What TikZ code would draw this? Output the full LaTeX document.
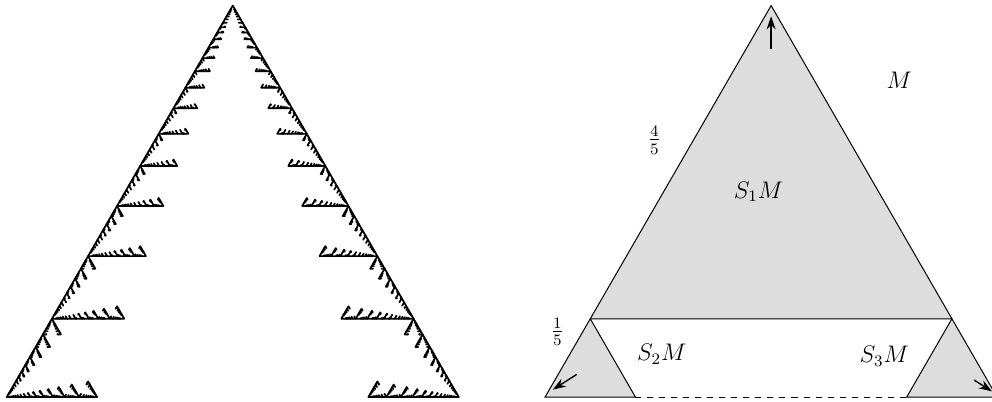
\documentclass[tikz,border=0pt]{standalone}
\usepackage{amsmath,amssymb}
\usepackage{tikz}
\usetikzlibrary{arrows.meta,calc}
\definecolor{AttrGray}{HTML}{DDDDDD}

\tikzset{
  attractor/.style={line width=0.85pt,line cap=round,line join=round},
  mapped/.style={fill=AttrGray,draw=black,line width=0.5pt},
  orient/.style={-{Stealth[length=6.5pt,width=4.5pt]},line width=0.7pt},
}

% S_1: 4/5 at the apex, S_2 / S_3: 1/5 at the base corners, turned by +-120 deg
\newcommand\ifsM[1]{%
  \ifdim#1pt<0.008pt
    \draw[attractor] (0,0)--(0.5,0.866)--(1,0);
  \else
    \pgfmathsetmacro\szA{0.8*#1}\pgfmathsetmacro\szB{0.2*#1}%
    \begin{scope}[shift={(0.1,0.1732)},scale=0.8]\ifsM{\szA}\end{scope}
    \begin{scope}[shift={(0.2,0)},scale=0.2,rotate=120]\ifsM{\szB}\end{scope}
    \begin{scope}[shift={(0.9,0.1732)},scale=0.2,rotate=-120]\ifsM{\szB}\end{scope}
  \fi}

\begin{document}
\begin{tikzpicture}[font=\fontsize{11.5}{14}\selectfont]
  \useasboundingbox (0,0) rectangle (17.43,7.047);
  % the attractor
  \begin{scope}[shift={(0.118,0.070)},scale=7.943]
    \ifsM{1}
  \end{scope}
  % M and its three images
  \coordinate (A) at (9.577,0.070);
  \coordinate (B) at (17.520,0.070);
  \coordinate (C) at (13.549,6.949);
  \coordinate (D) at ($(A)!0.2!(C)$);
  \coordinate (E) at ($(B)!0.2!(C)$);
  \coordinate (P) at ($(A)!0.2!(B)$);
  \coordinate (Q) at ($(B)!0.2!(A)$);
  \draw[mapped] (C)--(D)--(E)--cycle;
  \draw[mapped] (A)--(P)--(D)--cycle;
  \draw[mapped] (B)--(Q)--(E)--cycle;
  \draw[line width=0.5pt,dashed] (P)--(Q);
  \coordinate (upT) at (13.549,6.19);
  \coordinate (upH) at (13.549,6.76);
  \coordinate (lfT) at (10.134,0.469);
  \coordinate (lfH) at (9.713,0.200);
  \coordinate (rtT) at (17.116,0.369);
  \coordinate (rtH) at (17.43,0.17);
  \draw[orient] (upT)--(upH);
  \draw[orient] (lfT)--(lfH);
  \draw[orient] (rtT)--(rtH);
  \node (lblM) at (15.798,5.641) {$M$};
  \node (lblS1) at (13.326,3.678) {$S_1M$};
  \node (lblS2) at (11.628,0.826) {$S_2M$};
  \node (lblS3) at (15.535,0.791) {$S_3M$};
  \node (rBig) at (11.498,4.587) {$\frac{4}{5}$};
  \node (rSmall) at (9.793,1.218) {$\frac{1}{5}$};
\end{tikzpicture}
\end{document}
